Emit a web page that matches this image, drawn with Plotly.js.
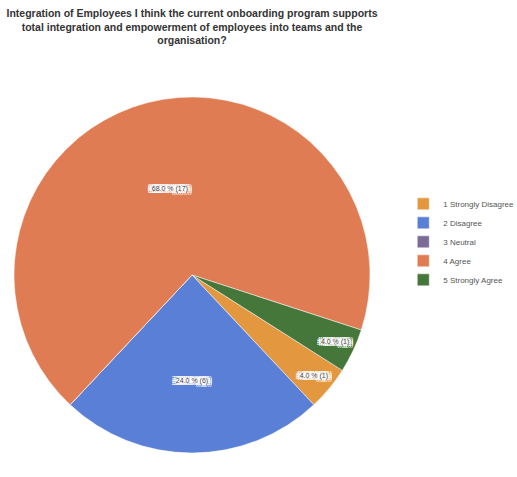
<!DOCTYPE html>
<html>
<head>
<meta charset="utf-8">
<script src="https://cdn.plot.ly/plotly-3.0.1.min.js"></script>
<style>html,body{margin:0;padding:0;background:#fff;}#chart{width:517px;height:477px;}</style>
</head>
<body>
<div id="chart"></div>
<script>
const categories = ["1 Strongly Disagree", "2 Disagree", "3 Neutral", "4 Agree", "5 Strongly Agree"];
const counts = [1, 6, 0, 17, 1];
const sliceColors = ["#e3973f", "#5a7fd6", "#7a6c96", "#e07c53", "#45763a"];
const chartTitle = "Integration of Employees I think the current onboarding program supports<br>total integration and empowerment of employees into teams and the<br>organisation?";

const total = counts.reduce((a, b) => a + b, 0);
const labelsText = counts.map(v => v > 0 ? (v / total * 100).toFixed(1) + " % (" + v + ")" : "");

const boxShadow = [];
for (let dx = -4; dx <= 4; dx += 2) {
  for (let dy = -2; dy <= 2; dy += 2) {
    boxShadow.push(dx + "px " + dy + "px 0 #fff");
  }
}

const trace = {
  type: "pie",
  labels: categories,
  values: counts,
  text: labelsText,
  textinfo: "text",
  textposition: "inside",
  insidetextorientation: "horizontal",
  sort: false,
  direction: "clockwise",
  rotation: 122.4,
  marker: {colors: sliceColors, line: {color: "#ffffff", width: 0.5}},
  textfont: {family: "Liberation Sans, Arial, sans-serif", size: 7, color: "#444", shadow: boxShadow.join(", ")},
  hoverinfo: "label+value+percent",
  domain: {x: [0, 1], y: [0, 1]}
};

const layout = {
  width: 517,
  height: 477,
  margin: {l: 14, r: 147, t: 95, b: 22},
  paper_bgcolor: "#ffffff",
  title: {
    text: chartTitle,
    font: {family: "Liberation Sans, Arial, sans-serif", size: 10.5, color: "#333", weight: "bold"},
    xref: "paper", x: 0.5, xanchor: "center",
    yref: "container", y: 0.9645, yanchor: "top"
  },
  showlegend: true,
  legend: {
    xref: "container", yref: "container",
    x: 0.78, xanchor: "left", y: 0.493, yanchor: "middle",
    font: {family: "Liberation Sans, Arial, sans-serif", size: 8, color: "#555"},
    traceorder: "normal",
    itemwidth: 30,
    tracegroupgap: 0
  }
};

Plotly.newPlot("chart", [trace], layout, {displayModeBar: false, staticPlot: true});
</script>
</body>
</html>
